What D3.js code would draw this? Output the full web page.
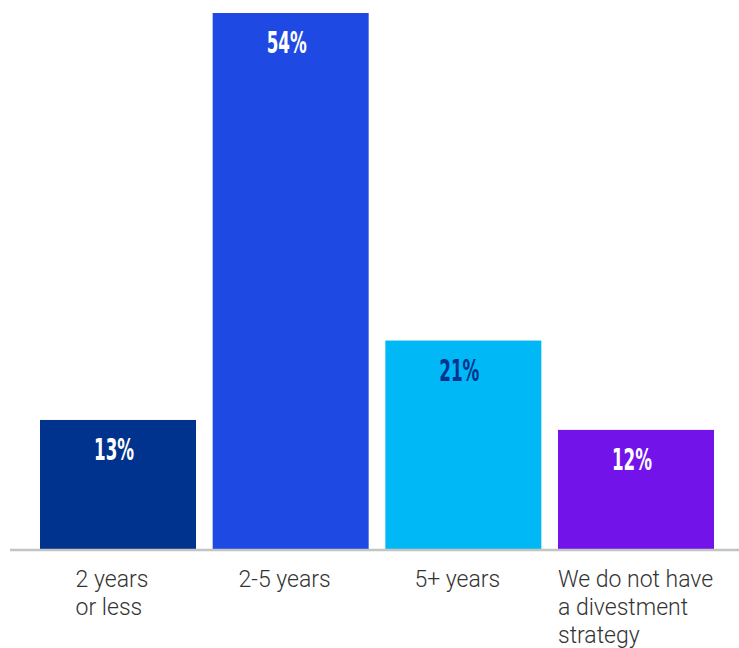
<!DOCTYPE html>
<html>
<head>
<meta charset="utf-8">
<script src="https://cdn.jsdelivr.net/npm/d3@7"></script>
<style>
  html, body { margin: 0; padding: 0; background: #fff; }
  svg { display: block; }
</style>
</head>
<body>
<svg id="chart"></svg>
<script>
// data
var categories = ["2 years or less", "2-5 years", "5+ years", "We do not have a divestment strategy"];
var labelLines = [["2 years", "or less"], ["2-5 years"], ["5+ years"], ["We do not have", "a divestment", "strategy"]];
var values = [13, 54, 21, 12];
var barColors = ["#00338D", "#1E49E2", "#00B8F5", "#7213EA"];
var valueColors = ["#ffffff", "#ffffff", "#00338D", "#ffffff"];

var width = 739, height = 648,
    baseY = 549;

var svg = d3.select("#chart")
    .attr("width", width)
    .attr("height", height);

var x = d3.scaleBand()
    .domain(categories)
    .range([40, 714])
    .paddingInner(0.0965)
    .paddingOuter(0);

var y = d3.scaleLinear()
    .domain([0, 54])
    .range([baseY, 13]);

// bars
svg.selectAll("rect.bar")
  .data(values)
  .enter().append("rect")
    .attr("class", "bar")
    .attr("x", function(d, i) { return x(categories[i]); })
    .attr("y", function(d) { return y(d); })
    .attr("width", x.bandwidth())
    .attr("height", function(d) { return y(0) - y(d); })
    .attr("fill", function(d, i) { return barColors[i]; });

// value labels inside the bars (squeezed to get the condensed look)
svg.selectAll("text.value")
  .data(values)
  .enter().append("text")
    .attr("class", "value")
    .attr("text-anchor", "middle")
    .attr("font-family", "'DejaVu Sans Condensed', 'Liberation Sans', sans-serif")
    .attr("font-weight", "bold")
    .attr("font-size", 31)
    .attr("fill", function(d, i) { return valueColors[i]; })
    .attr("transform", function(d, i) {
      var cx = x(categories[i]) + x.bandwidth() / 2 - 4;
      return "translate(" + cx + "," + (y(d) + 40) + ") scale(0.6,1)";
    })
    .text(function(d) { return d + "%"; });

// baseline
svg.append("line")
    .attr("x1", 10)
    .attr("x2", width)
    .attr("y1", baseY + 1)
    .attr("y2", baseY + 1)
    .attr("stroke", "#c4c4c4")
    .attr("stroke-width", 2.5);

// category labels, left aligned block centred under each bar
var lab = svg.selectAll("text.cat")
  .data(labelLines)
  .enter().append("text")
    .attr("class", "cat")
    .attr("font-family", "Roboto, 'Liberation Sans', sans-serif")
    .attr("font-weight", 300)
    .attr("font-size", 23)
    .attr("fill", "#333333");

lab.each(function(lines) {
  var t = d3.select(this);
  lines.forEach(function(s, k) {
    t.append("tspan").attr("dy", k === 0 ? 0 : 28).text(s);
  });
});

lab.each(function(lines, i) {
  var t = d3.select(this);
  var w = d3.max(t.selectAll("tspan").nodes(), function(n) { return n.getComputedTextLength(); });
  var left = Math.max(x(categories[i]), x(categories[i]) + x.bandwidth() / 2 - w / 2 - 6);
  t.attr("y", 587);
  t.selectAll("tspan").attr("x", left);
});
</script>
</body>
</html>
